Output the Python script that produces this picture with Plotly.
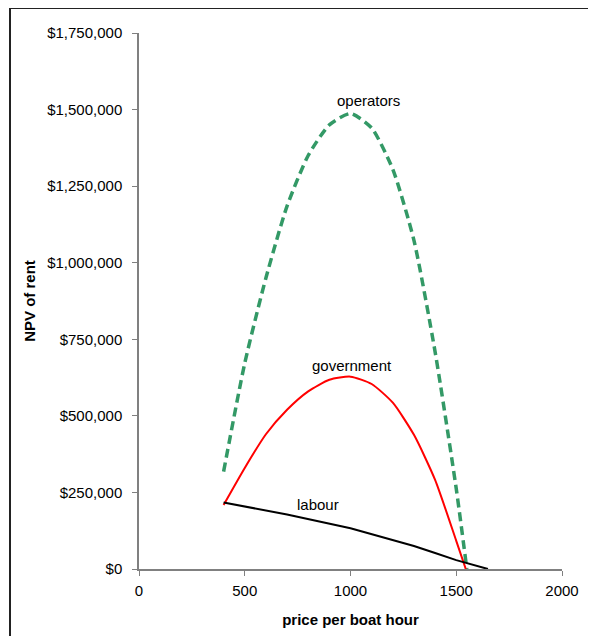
import plotly.graph_objects as go

price_ops = [400, 500, 600, 700, 800, 900, 1000, 1100, 1200, 1300, 1400, 1500, 1550]
operators = [318000, 672000, 950000, 1185000, 1350000, 1450000, 1487000, 1440000, 1305000, 1073000, 709000, 262000, 0]

price_gov = [400, 500, 600, 700, 800, 900, 1000, 1100, 1200, 1300, 1400, 1500, 1545]
government = [209000, 330000, 440000, 520000, 580000, 618000, 628000, 604000, 543000, 438000, 291000, 92000, 0]

price_lab = [400, 700, 1000, 1300, 1400, 1500, 1650]
labour = [217000, 178000, 133000, 75000, 52000, 29000, 0]

labels = [("operators", 1083, 1531000), ("government", 1007, 663000), ("labour", 846, 212000)]

FONT = "Liberation Sans, Arial, sans-serif"

fig = go.Figure()
fig.add_trace(go.Scatter(x=price_ops, y=operators, mode="lines", name="operators",
                         line=dict(color="#339966", width=3.5, dash="9px,5px", shape="spline", smoothing=0.6)))
fig.add_trace(go.Scatter(x=price_gov, y=government, mode="lines", name="government",
                         line=dict(color="#FF0000", width=2, shape="spline", smoothing=0.6)))
fig.add_trace(go.Scatter(x=price_lab, y=labour, mode="lines", name="labour",
                         line=dict(color="#000000", width=2)))

for text, x, y in labels:
    fig.add_annotation(x=x, y=y, text=text, showarrow=False,
                       font=dict(family=FONT, size=15, color="#000000"))

fig.update_layout(
    width=596, height=636,
    margin=dict(l=131, r=42, t=25, b=75, autoexpand=False),
    paper_bgcolor="white", plot_bgcolor="white",
    showlegend=False,
    font=dict(family=FONT, size=15, color="#000000"),
)
fig.update_xaxes(
    range=[0, 2000], tickvals=[0, 500, 1000, 1500, 2000],
    showgrid=False, zeroline=False, showline=True, linecolor="#808080", linewidth=1.5,
    ticks="outside", ticklen=5, tickcolor="#808080", ticklabelstandoff=2,
    title=dict(text="<b>price per boat hour</b>", font=dict(family=FONT, size=15), standoff=17),
    automargin=False,
)
fig.update_yaxes(
    range=[0, 1750000], dtick=250000, tickprefix="$", tickformat=",d",
    showgrid=False, zeroline=False, showline=True, linecolor="#808080", linewidth=1.5,
    ticks="outside", ticklen=5, tickcolor="#808080", ticklabelstandoff=7,
    title=dict(text="<b>NPV of rent</b>", font=dict(family=FONT, size=15), standoff=8),
    automargin=False,
)

# outer chart border (extends beyond the visible window at right and bottom)
fig.add_shape(type="rect", xref="paper", yref="paper",
              x0=(10 - 139) / 423, x1=(606 - 139) / 423,
              y0=(569 - 646) / 536, y1=(569 - 8) / 536,
              line=dict(color="#222222", width=2), fillcolor="rgba(0,0,0,0)")

fig.write_html("out.html")
